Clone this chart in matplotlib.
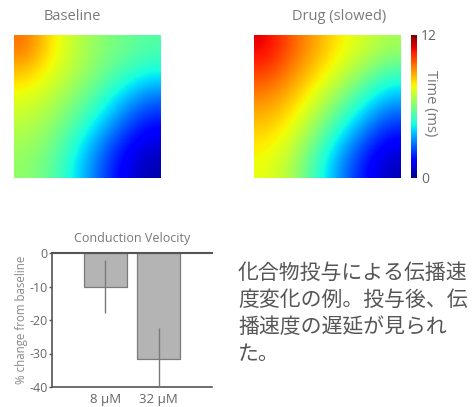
import numpy as np
import matplotlib
matplotlib.use("Agg")
import matplotlib.pyplot as plt

plt.rcParams['font.family'] = ['Open Sans', 'DejaVu Sans']

# ---- data ----
baseline_grid = [
    [9.5, 8.0, 7.0, 6.2, 5.8, 5.4],
    [8.5, 7.6, 6.8, 6.0, 5.2, 4.6],
    [7.6, 7.0, 6.2, 5.2, 4.0, 3.0],
    [7.0, 6.5, 5.5, 4.3, 2.8, 1.8],
    [6.6, 6.0, 4.8, 3.2, 1.8, 1.0],
    [6.3, 5.6, 4.3, 2.6, 1.2, 0.5],
]
drug_grid = [
    [11.0, 9.8, 8.8, 7.9, 7.2, 6.6],
    [10.2, 9.3, 8.3, 7.3, 6.3, 5.3],
    [9.3, 8.6, 7.5, 6.3, 5.0, 3.8],
    [8.6, 7.9, 6.7, 5.2, 3.6, 2.4],
    [8.0, 7.3, 5.8, 4.0, 2.4, 1.3],
    [7.6, 6.8, 5.1, 3.2, 1.6, 0.6],
]
time_min, time_max = 0, 12
cbar_ticks = [0, 12]

bar_labels = ["8 µM", "32 µM"]
bar_values = [-10.0, -31.5]
bar_errors = [8.0, 9.0]
y_ticks = [0, -10, -20, -30, -40]

caption_lines = ["化合物投与による伝播速", "度変化の例。投与後、伝", "播速度の遅延が見られ", "た。"]

W, H = 475, 407
fig = plt.figure(figsize=(W / 100, H / 100), dpi=100)

def fax(x0, y0, x1, y1):
    return fig.add_axes([x0 / W, 1 - y1 / H, (x1 - x0) / W, (y1 - y0) / H])

title_color = '#7a7a7a'

ax1 = fax(14, 35, 161, 178)
im1 = ax1.imshow(np.array(baseline_grid), cmap='jet', vmin=time_min, vmax=time_max,
                 interpolation='bicubic', aspect='auto')
ax1.axis('off')

ax2 = fax(254, 35, 401, 178)
im2 = ax2.imshow(np.array(drug_grid), cmap='jet', vmin=time_min, vmax=time_max,
                 interpolation='bicubic', aspect='auto')
ax2.axis('off')

fig.text(72 / W, 1 - 17 / H, "Baseline", ha='center', va='center', fontsize=10.5, color=title_color)
fig.text(339 / W, 1 - 17 / H, "Drug (slowed)", ha='center', va='center', fontsize=10.5, color=title_color)

cax = fax(411, 35, 417, 178)
cb = fig.colorbar(im2, cax=cax, ticks=cbar_ticks)
cb.outline.set_visible(False)
cax.tick_params(length=0, labelsize=10, labelcolor='#666666', pad=3)
cb.set_label("")
fig.text(431 / W, 1 - 103 / H, "Time (ms)", rotation=-90, ha='center', va='center',
         color='#777777', fontsize=10.5)

# ---- bar chart ----
axb = fax(52, 253, 212, 387)
x = np.arange(len(bar_values))
axb.bar(x, bar_values, width=0.8, color='#b4b4b4', edgecolor='#7a7a7a', linewidth=0.9, zorder=2)
axb.errorbar(x, bar_values, yerr=bar_errors, fmt='none', ecolor='#7a7a7a', elinewidth=1, capsize=0, zorder=3)
axb.set_xlim(-1, 2)
axb.set_ylim(-40, 0)
axb.set_xticks(x)
axb.set_xticklabels(bar_labels)
axb.set_yticks(y_ticks)
axb.set_yticklabels([str(v) for v in y_ticks])
for s in ['left', 'bottom', 'top']:
    axb.spines[s].set_color('#555555')
    axb.spines[s].set_linewidth(1.2)
axb.spines['top'].set_linewidth(1.5)
axb.spines['right'].set_visible(False)
axb.tick_params(axis='y', length=2, width=1, color='#555555', labelsize=9, labelcolor='#666666', pad=1)
axb.tick_params(axis='x', length=0, labelsize=9.5, labelcolor='#666666', pad=4)
axb.set_ylabel("% change from baseline", fontsize=8.3, color='#888888', labelpad=1)
axb.set_title("Conduction Velocity", fontsize=9, color='#777777', pad=8)

# ---- caption ----
for i, line in enumerate(caption_lines):
    fig.text(238 / W, 1 - (273 + i * 27) / H, line, ha='left', va='center',
             fontsize=15, color='#555555', family=['Noto Sans CJK JP', 'DejaVu Sans'])

fig.savefig("out.png", dpi=100)
